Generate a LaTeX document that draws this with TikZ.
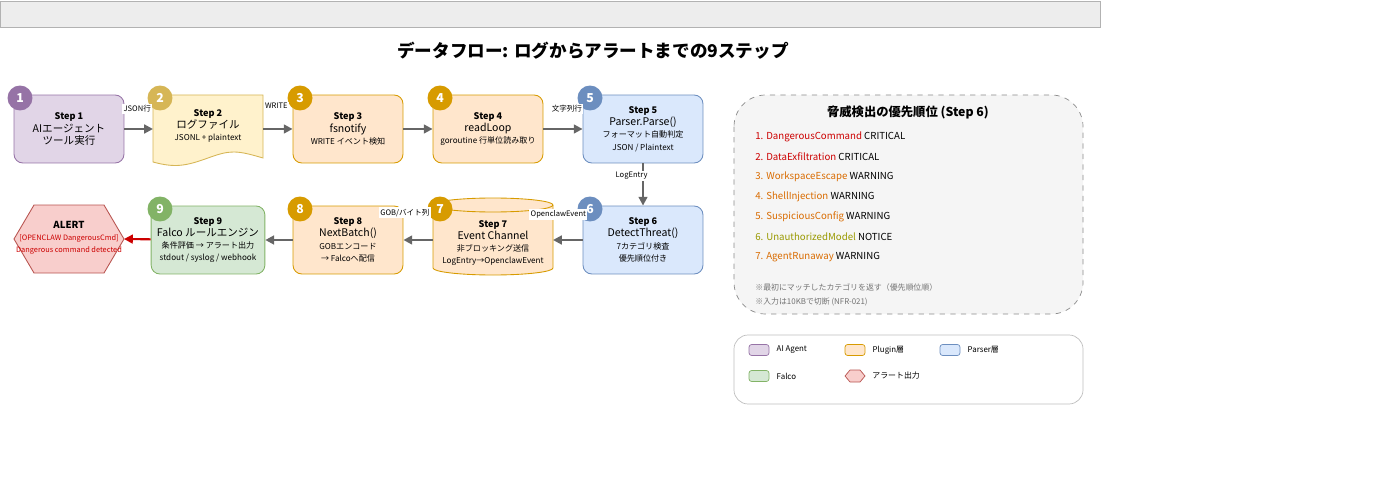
\documentclass[tikz,border=0pt]{standalone}
\usepackage{fontspec}
\setmainfont{Noto Sans CJK JP}
\usetikzlibrary{shapes.geometric,arrows.meta,positioning}
\definecolor{agentF}{HTML}{E1D5E7}\definecolor{agentD}{HTML}{9673A6}
\definecolor{logF}{HTML}{FFF2CC}\definecolor{logD}{HTML}{D6B656}
\definecolor{plugF}{HTML}{FFE6CC}\definecolor{plugD}{HTML}{D79B00}
\definecolor{parsF}{HTML}{DAE8FC}\definecolor{parsD}{HTML}{6C8EBF}
\definecolor{falcF}{HTML}{D5E8D4}\definecolor{falcD}{HTML}{82B366}
\definecolor{alrtF}{HTML}{F8CECC}\definecolor{alrtD}{HTML}{B85450}
\definecolor{crit}{HTML}{CC0000}\definecolor{warn}{HTML}{D96B00}\definecolor{note}{HTML}{999900}
\begin{document}
\begin{tikzpicture}[x=0.02cm,y=-0.02cm,
    stepbox/.style={draw, rounded corners=5pt, minimum width=2.2cm, minimum height=1.36cm, align=center, font=\fontsize{4.6}{7}\selectfont, line width=0.5pt},
    badge/.style={circle, fill=#1, text=white, minimum size=0.5cm, inner sep=0pt, font=\fontsize{7}{8}\selectfont\bfseries},
    flow/.style={-{Triangle[length=5pt,width=5pt]}, line width=1.2pt, draw=black!60},
    lbl/.style={font=\fontsize{4.3}{5}\selectfont, fill=white, inner sep=0.8pt},
    leg/.style={draw, rounded corners=1.5pt, minimum width=0.4cm, minimum height=0.22cm, inner sep=0pt},
    legtxt/.style={right=4pt, font=\fontsize{4.5}{5}\selectfont, inner sep=0pt}]
\useasboundingbox (0,0) rectangle (1400,500);
% 上部のバー
\draw[black!30, fill=black!7] (0,1) rectangle (1100,27);
\node (title) at (593,51) {\fontsize{10}{12}\selectfont\bfseries データフロー: ログからアラートまでの9ステップ};

% 1段目
\node[stepbox, fill=agentF, draw=agentD] (s1) at (69,129) {{\fontsize{5.2}{7}\selectfont\bfseries Step 1}\\{\fontsize{6}{7.5}\selectfont AIエージェント}\\{\fontsize{6}{7.5}\selectfont ツール実行}};
\draw[logD, fill=logF, line width=0.5pt] (153,95) -- (263,95) -- (263,158) .. controls (236,150) and (230,150) .. (208,158) .. controls (186,166) and (175,168) .. (153,162) -- cycle;
\node[align=center, font=\fontsize{4.6}{7}\selectfont] (s2) at (208,126) {{\fontsize{5.2}{7}\selectfont\bfseries Step 2}\\{\fontsize{6}{7.5}\selectfont ログファイル}\\JSONL + plaintext};
\node[stepbox, fill=plugF, draw=plugD] (s3) at (348,129) {{\fontsize{5.2}{7}\selectfont\bfseries Step 3}\\{\fontsize{6}{7.5}\selectfont fsnotify}\\WRITE イベント検知};
\node[stepbox, fill=plugF, draw=plugD] (s4) at (488,129) {{\fontsize{5.2}{7}\selectfont\bfseries Step 4}\\{\fontsize{6}{7.5}\selectfont readLoop}\\goroutine 行単位読み取り};
\node[stepbox, fill=parsF, draw=parsD, minimum width=2.4cm] (s5) at (643,129) {{\fontsize{5.2}{7}\selectfont\bfseries Step 5}\\{\fontsize{6}{7.5}\selectfont Parser.Parse()}\\フォーマット自動判定\\JSON / Plaintext};

% 2段目
\node[stepbox, fill=parsF, draw=parsD, minimum width=2.4cm] (s6) at (643,240) {{\fontsize{5.2}{7}\selectfont\bfseries Step 6}\\{\fontsize{6}{7.5}\selectfont DetectThreat()}\\7カテゴリ検査\\優先順位付き};
\draw[plugD, fill=plugF, line width=0.5pt] (433,205) -- (433,268) arc[start angle=180, end angle=360, x radius=60, y radius=-7] -- (553,205) arc[start angle=0, end angle=180, x radius=60, y radius=-7] -- cycle;
\draw[plugD, line width=0.5pt] (433,205) arc[start angle=180, end angle=360, x radius=60, y radius=-7];
\node[align=center, font=\fontsize{4.6}{7}\selectfont] (s7) at (493,243) {{\fontsize{5.2}{7}\selectfont\bfseries Step 7}\\{\fontsize{6}{7.5}\selectfont Event Channel}\\非ブロッキング送信\\LogEntry→OpenclawEvent};
\coordinate (s7R) at (553,240);
\coordinate (s7L) at (433,240);
\node[stepbox, fill=plugF, draw=plugD] (s8) at (348,240) {{\fontsize{5.2}{7}\selectfont\bfseries Step 8}\\{\fontsize{6}{7.5}\selectfont NextBatch()}\\GOBエンコード\\→ Falcoへ配信};
\node[stepbox, fill=falcF, draw=falcD] (s9) at (208,240) {{\fontsize{5.2}{7}\selectfont\bfseries Step 9}\\{\fontsize{6}{7.5}\selectfont Falco ルールエンジン}\\条件評価 → アラート出力\\stdout / syslog / webhook};
\draw[alrtD, fill=alrtF, line width=0.5pt] (14,239) -- (34,205) -- (104,205) -- (124,239) -- (104,273) -- (34,273) -- cycle;
\node[align=center, font=\fontsize{4.2}{7}\selectfont, text=crit] (alert) at (69,238) {{\color{black}\fontsize{5.5}{7}\selectfont\bfseries ALERT}\\{[}OPENCLAW DangerousCmd{]}\\Dangerous command detected};
\coordinate (alertR) at (124,239);

% バッジ
\node[badge=agentD] (b1) at (20,98) {1};
\node[badge=logD] (b2) at (160,98) {2};
\node[badge=plugD] (b3) at (300,98) {3};
\node[badge=plugD] (b4) at (440,98) {4};
\node[badge=parsD] (b5) at (590,98) {5};
\node[badge=parsD] (b6) at (590,209) {6};
\node[badge=plugD] (b7) at (440,209) {7};
\node[badge=plugD] (b8) at (300,209) {8};
\node[badge=falcD] (b9) at (160,209) {9};

% 矢印
\draw[flow] (s1) -- (153,129) node[lbl, pos=0.45, above=8pt] {JSON行};
\draw[flow] (263,129) -- (s3) node[lbl, pos=0.45, above=10pt] {WRITE};
\draw[flow] (s3) -- (s4);
\draw[flow] (s4) -- (s5) node[lbl, pos=0.6, above=8pt] {文字列行};
\draw[flow] (s5) -- (s6) node[lbl, pos=0.3, left=-4pt] {LogEntry};
\draw[flow] (s6) -- (s7R) node[lbl, pos=0.82, above=11pt] {OpenclawEvent};
\draw[flow] (s7L) -- (s8) node[lbl, pos=0.95, above=12pt] {GOB/バイト列};
\draw[flow] (s8) -- (s9);
\draw[-{Triangle[length=5pt,width=5pt]}, line width=1.2pt, draw=crit] (s9) -- (alertR);

% 右のパネル
\draw[dashed, black!45, fill=black!4, rounded corners=18pt] (734,95) rectangle (1083,314);
\node (ptitle) at (908,112) {\fontsize{7}{8}\selectfont\bfseries 脅威検出の優先順位 (Step 6)};
\foreach \n/\c/\lv [count=\i] in {DangerousCommand/crit/CRITICAL, DataExfiltration/crit/CRITICAL, WorkspaceEscape/warn/WARNING, ShellInjection/warn/WARNING, SuspiciousConfig/warn/WARNING, UnauthorizedModel/note/NOTICE, AgentRunaway/warn/WARNING}
  \node[anchor=west, inner sep=0pt, font=\fontsize{5.5}{6}\selectfont] (item\i) at (755,117+20*\i) {\textcolor{\c}{\i. \n} \lv};
\node[anchor=west, inner sep=0pt, text=black!55, font=\fontsize{4.5}{5}\selectfont] (note1) at (755,287) {※最初にマッチしたカテゴリを返す（優先順位順）};
\node[anchor=west, inner sep=0pt, text=black!55, font=\fontsize{4.5}{5}\selectfont] (note2) at (755,302) {※入力は10KBで切断 (NFR-021)};

% 凡例
\draw[black!25, rounded corners=8pt] (734,335) rectangle (1083,404);
\node[leg, fill=agentF, draw=agentD] (lg1) at (759,350) {};
\node[legtxt] at (lg1.east) {AI Agent};
\node[leg, fill=plugF, draw=plugD] (lg2) at (855,350) {};
\node[legtxt] at (lg2.east) {Plugin層};
\node[leg, fill=parsF, draw=parsD] (lg3) at (950,350) {};
\node[legtxt] at (lg3.east) {Parser層};
\node[leg, fill=falcF, draw=falcD] (lg4) at (759,376) {};
\node[legtxt] at (lg4.east) {Falco};
\draw[alrtD, fill=alrtF] (845,376) -- (850,370) -- (860,370) -- (865,376) -- (860,382) -- (850,382) -- cycle;
\node[legtxt] (lg5) at (865,376) {アラート出力};
\end{tikzpicture}
\end{document}
